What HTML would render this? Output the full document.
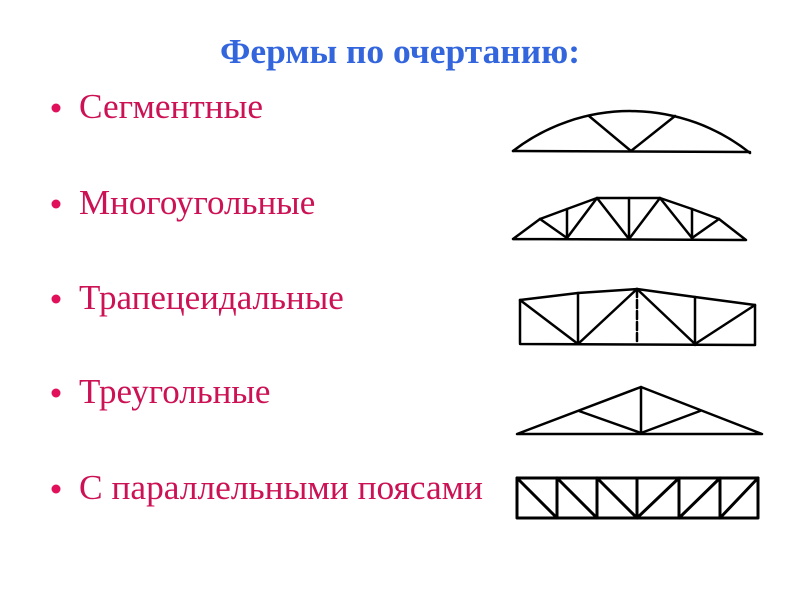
<!DOCTYPE html>
<html><head><meta charset="utf-8"><style>
html,body{margin:0;padding:0;background:#fff;width:800px;height:600px;overflow:hidden}
</style></head><body>
<svg width="800" height="600" viewBox="0 0 800 600" xmlns="http://www.w3.org/2000/svg">
<text x="400" y="63" text-anchor="middle" font-family="Liberation Serif, serif" font-weight="bold" font-size="35" fill="#3366dd" textLength="360" lengthAdjust="spacingAndGlyphs">Фермы по очертанию:</text>
<g font-family="Liberation Serif, serif" font-size="35" fill="#cc1155">
<text x="79" y="118" textLength="184" lengthAdjust="spacingAndGlyphs">Сегментные</text>
<text x="79" y="214">Многоугольные</text>
<text x="79" y="309">Трапецеидальные</text>
<text x="79" y="403">Треугольные</text>
<text x="79" y="499" textLength="404" lengthAdjust="spacingAndGlyphs">С параллельными поясами</text>
</g>
<g fill="#e0105a">
<circle cx="56" cy="108" r="4.5"/><circle cx="56" cy="204" r="4.5"/><circle cx="56" cy="299" r="4.5"/><circle cx="56" cy="393" r="4.5"/><circle cx="56" cy="489" r="4.5"/>
</g>
<g stroke="#000" stroke-width="2.5" fill="none" stroke-linecap="round" stroke-linejoin="round">
<path d="M513 151 A192 192 0 0 1 750 153"/>
<line x1="513" y1="151" x2="750" y2="152"/>
<polyline points="589,116 631,151 675,116"/>
<polyline points="513,239 540,219 567,209 597,198 660,198 692,209 719,219 746,240 513,239"/>
<line x1="567" y1="209" x2="567" y2="238"/><line x1="629" y1="198" x2="629" y2="239"/><line x1="692" y1="209" x2="692" y2="238"/>
<polyline points="540,219 567,238 597,198 629,239 660,198 692,238 719,219"/>
<polyline points="520,343 520,300 578,293 637,289 695,297 755,305 755,345 520,344"/>
<line x1="578" y1="293" x2="578" y2="344"/><line x1="695" y1="297" x2="695" y2="345"/>
<line x1="637" y1="289" x2="637" y2="342" stroke-dasharray="8,3"/>
<polyline points="520,300 578,344 637,289 695,344 755,305"/>
<polygon points="517,434 641,387 762,434"/>
<line x1="641" y1="387" x2="641" y2="433"/>
<polyline points="579,411 641,433 700,411"/>
<rect x="517" y="478" width="241" height="40" stroke-width="3"/>
<g stroke-width="3">
<line x1="557" y1="478" x2="557" y2="518"/><line x1="597" y1="478" x2="597" y2="518"/><line x1="637" y1="478" x2="637" y2="518"/><line x1="679" y1="478" x2="679" y2="518"/><line x1="720" y1="478" x2="720" y2="518"/>
<line x1="517" y1="478" x2="557" y2="518"/><line x1="557" y1="478" x2="597" y2="518"/><line x1="597" y1="478" x2="637" y2="518"/>
<line x1="637" y1="518" x2="679" y2="478"/><line x1="679" y1="518" x2="720" y2="478"/><line x1="720" y1="518" x2="758" y2="478"/>
</g>
</g>
</svg>
</body></html>
